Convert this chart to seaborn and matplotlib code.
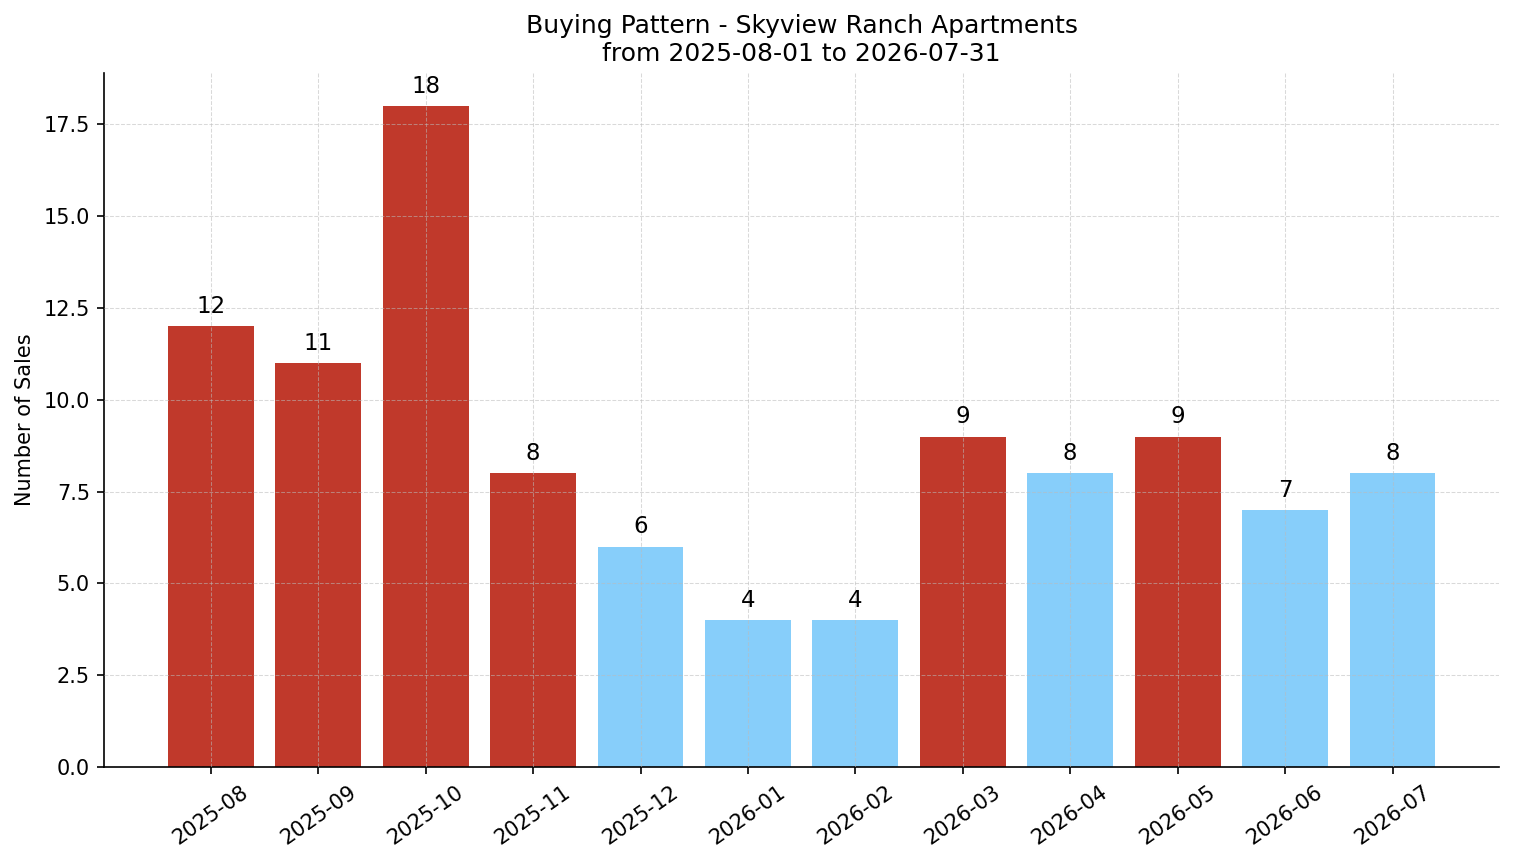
import matplotlib
matplotlib.use("Agg")
import matplotlib.pyplot as plt
import seaborn as sns
import pandas as pd

# dane z wykresu
months = ["2025-08", "2025-09", "2025-10", "2025-11", "2025-12", "2026-01",
          "2026-02", "2026-03", "2026-04", "2026-05", "2026-06", "2026-07"]
sales = [12, 11, 18, 8, 6, 4, 4, 9, 8, 9, 7, 8]
bar_colors = ["#C0392B", "#C0392B", "#C0392B", "#C0392B", "#87CEFA", "#87CEFA",
              "#87CEFA", "#C0392B", "#87CEFA", "#C0392B", "#87CEFA", "#87CEFA"]

df = pd.DataFrame({"month": months, "sales": sales})

sns.set_style("ticks", {"axes.edgecolor": "black", "text.color": "black",
                        "xtick.color": "black", "ytick.color": "black",
                        "axes.labelcolor": "black"})
plt.rcParams['font.family'] = ['DejaVu Sans']

fig, ax = plt.subplots(figsize=(1514 / 150, 863 / 150), dpi=150)
sns.barplot(data=df, x="month", y="sales", hue="month", palette=bar_colors,
            legend=False, width=0.8, saturation=1, linewidth=0, ax=ax)

for i, v in enumerate(sales):
    ax.annotate(str(v), (i, v), xytext=(0, 4), textcoords="offset points",
                ha="center", va="bottom", fontsize=11)

ax.set_xlim(-0.99, len(months) - 0.01)
ax.set_ylim(0, max(sales) * 1.05)
ax.grid(True, linestyle="--", linewidth=0.5, color="#bbbbbb", alpha=0.55)
ax.set_axisbelow(False)
sns.despine(ax=ax)

ax.set_title("Buying Pattern - Skyview Ranch Apartments\nfrom 2025-08-01 to 2026-07-31",
             fontsize=12)
ax.set_xlabel("")
ax.set_ylabel("Number of Sales", fontsize=10)
ax.tick_params(axis="both", labelsize=10)
plt.xticks(rotation=35)

fig.subplots_adjust(left=0.069, right=0.990, top=0.9154, bottom=0.1112)
plt.savefig("out.png", dpi=150)
